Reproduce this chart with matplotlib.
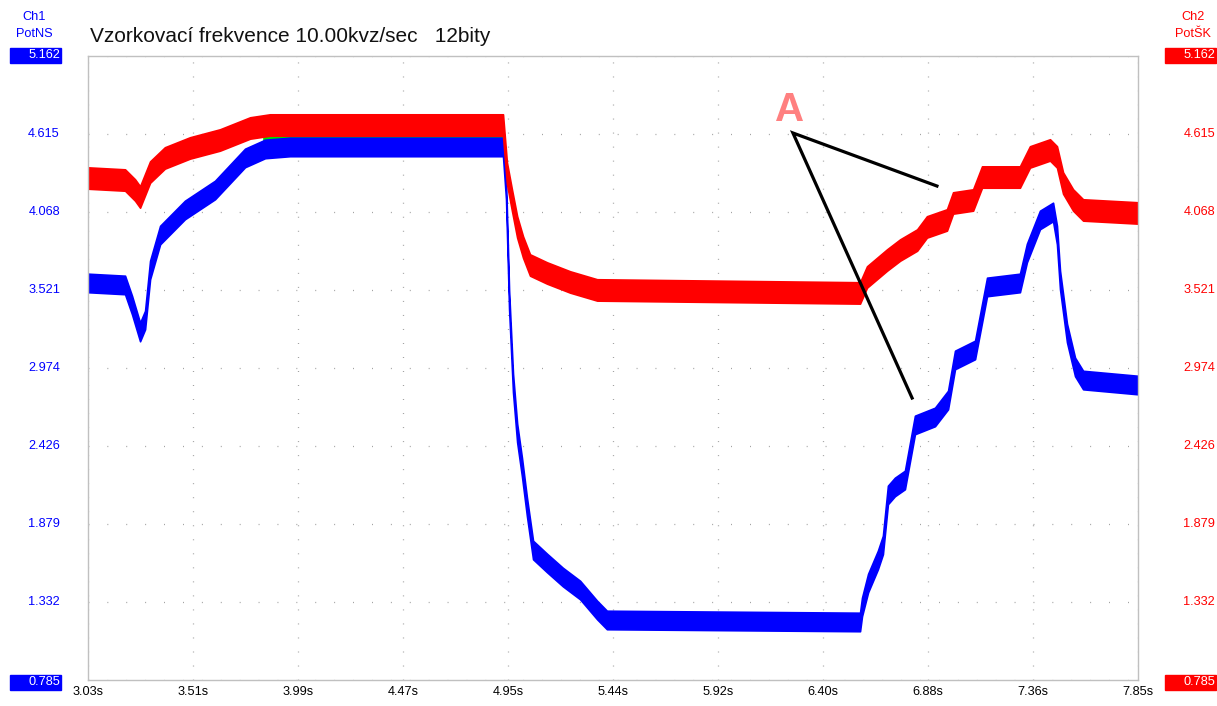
import numpy as np
import matplotlib.pyplot as plt
from matplotlib.patches import Rectangle
from matplotlib.transforms import blended_transform_factory

plt.rcParams['font.family'] = ['Liberation Sans', 'DejaVu Sans']

# Ch1 (PotNS) - centre of the noisy trace, time [s] / voltage [V]
ch1_t = [3.030, 3.200, 3.232, 3.269, 3.292, 3.315, 3.361, 3.475, 3.613, 3.751, 3.843,
         3.957, 4.935, 4.949, 4.963, 4.981, 5.000, 5.022, 5.045, 5.073, 5.137, 5.210,
         5.289, 5.367, 5.412, 6.574, 6.583, 6.611, 6.656, 6.679, 6.702, 6.734, 6.780,
         6.826, 6.918, 6.978, 7.010, 7.102, 7.157, 7.308, 7.340, 7.400, 7.460, 7.478,
         7.492, 7.524, 7.561, 7.598, 7.850]
ch1_v = [3.570, 3.556, 3.415, 3.226, 3.310, 3.661, 3.906, 4.082, 4.222, 4.447, 4.510,
         4.524, 4.524, 4.222, 3.451, 2.868, 2.518, 2.279, 1.999, 1.697, 1.606, 1.507,
         1.416, 1.276, 1.206, 1.192, 1.297, 1.465, 1.627, 1.732, 2.083, 2.139, 2.188,
         2.574, 2.630, 2.749, 3.030, 3.100, 3.542, 3.570, 3.780, 4.012, 4.068, 3.906,
         3.591, 3.219, 2.981, 2.889, 2.854]
ch1_noise = 0.065

# Ch2 (PotŠK)
ch2_t = [3.030, 3.200, 3.246, 3.269, 3.315, 3.383, 3.498, 3.636, 3.774, 3.865, 4.935,
         4.953, 4.976, 5.000, 5.027, 5.059, 5.137, 5.243, 5.367, 6.574, 6.606, 6.698,
         6.758, 6.836, 6.881, 6.973, 7.001, 7.093, 7.134, 7.308, 7.354, 7.446, 7.478,
         7.506, 7.552, 7.598, 7.850]
ch2_v = [4.306, 4.292, 4.222, 4.173, 4.348, 4.447, 4.517, 4.573, 4.657, 4.678, 4.678,
         4.341, 4.152, 3.963, 3.822, 3.696, 3.640, 3.577, 3.521, 3.500, 3.612, 3.731,
         3.801, 3.871, 3.963, 4.012, 4.131, 4.152, 4.313, 4.313, 4.454, 4.503, 4.454,
         4.271, 4.152, 4.082, 4.061]
ch2_noise = 0.075

# third trace, visible only as spikes between the two
ch3_t = [3.84, 4.935]
ch3_v = [4.60, 4.60]
ch3_noise = 0.04

x_labels = ['3.03s', '3.51s', '3.99s', '4.47s', '4.95s', '5.44s',
            '5.92s', '6.40s', '6.88s', '7.36s', '7.85s']
y_labels = ['0.785', '1.332', '1.879', '2.426', '2.974', '3.521', '4.068', '4.615', '5.162']

x_min, x_max = 3.03, 7.85
y_min, y_max = 0.785, 5.162

W, H = 1217, 706
fig = plt.figure(figsize=(W / 100, H / 100), dpi=100)
ax = fig.add_axes([88 / W, 1 - 680 / H, 1050 / W, 624 / H])
ax.set_xlim(x_min, x_max)
ax.set_ylim(y_min, y_max)

xt = np.linspace(x_min, x_max, len(x_labels))
yt = np.linspace(y_min, y_max, len(y_labels))
ax.set_xticks(xt)
ax.set_yticks(yt)
ax.set_xticklabels([])
ax.set_yticklabels([])
ax.tick_params(length=0)
for s in ax.spines.values():
    s.set_color('#c0c0c0')
    s.set_linewidth(1)

ax.xaxis.grid(True, color='#999999', lw=0.9, linestyle=(0, (0.72, 10.5)))
ax.yaxis.grid(True, color='#999999', lw=0.9, linestyle=(0, (0.72, 14.4)))
ax.set_axisbelow(True)

# traces as noise bands
for t, v, n, c in [(ch3_t, ch3_v, ch3_noise, '#00dd00'),
                   (ch1_t, ch1_v, ch1_noise, '#0000ff'),
                   (ch2_t, ch2_v, ch2_noise, '#ff0000')]:
    t = np.array(t)
    v = np.array(v)
    ax.fill_between(t, v - n, v + n, color=c, lw=1.2, edgecolor=c)

# annotation A
ax.plot([6.927, 6.266, 6.813], [4.250, 4.622, 2.763], color='black', lw=2.3,
        solid_joinstyle='miter')
ax.text(6.252, 4.78, 'A', color='#ff8080', fontsize=29, fontweight='bold',
        ha='center', va='center')

fs = 9.2
# tick labels
tr = blended_transform_factory(ax.transAxes, ax.transData)
for y, lab in zip(yt[1:-1], y_labels[1:-1]):
    ax.text(-28 / 1050, y, lab, transform=tr, ha='right', va='center',
            color='#0000ff', fontsize=fs)
    ax.text(1127 / 1050, y, lab, transform=tr, ha='right', va='center',
            color='#ff0000', fontsize=fs)

for x, lab in zip(xt, x_labels):
    ax.text(x, -12 / 624, lab, transform=blended_transform_factory(ax.transData, ax.transAxes),
            ha='center', va='center', color='black', fontsize=fs)

# end-of-scale boxes
for (x0, col) in [(10, '#0000ff'), (1165, '#ff0000')]:
    for yc, lab in [(55, y_labels[-1]), (682, y_labels[0])]:
        fig.patches.append(Rectangle((x0 / W, 1 - (yc + 8) / H), 51 / W, 15 / H,
                                     transform=fig.transFigure, color=col))
        fig.text((x0 + 50) / W, 1 - yc / H, lab, ha='right', va='center',
                 color='white', fontsize=fs)

# channel names
fig.text(34 / W, 1 - 17 / H, 'Ch1', ha='center', va='center', color='#0000ff', fontsize=fs)
fig.text(34 / W, 1 - 34 / H, 'PotNS', ha='center', va='center', color='#0000ff', fontsize=fs)
fig.text(1193 / W, 1 - 17 / H, 'Ch2', ha='center', va='center', color='#ff0000', fontsize=fs)
fig.text(1193 / W, 1 - 34 / H, 'PotŠK', ha='center', va='center', color='#ff0000', fontsize=fs)

fig.text(90 / W, 1 - 36 / H, 'Vzorkovací frekvence 10.00kvz/sec   12bity',
         ha='left', va='center', color='#111111', fontsize=15)

fig.savefig('out.png', dpi=100)
